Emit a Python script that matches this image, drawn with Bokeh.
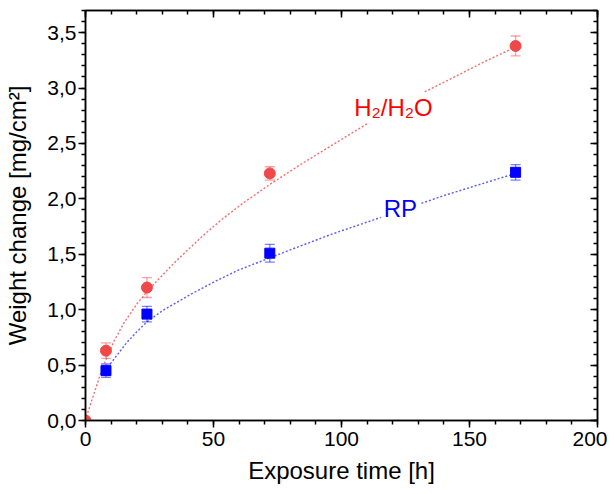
from bokeh.plotting import figure
from bokeh.models import (Range1d, FixedTicker, LinearAxis, Label, Whisker,
                          ColumnDataSource, TeeHead)
from bokeh.embed import file_html
from bokeh.resources import INLINE

# ---- data ----
h2_t = [0, 8, 24, 72, 168]
h2_w = [0.0, 0.63, 1.20, 2.23, 3.38]
h2_err = [0.0, 0.07, 0.09, 0.06, 0.09]

rp_t = [8, 24, 72, 168]
rp_w = [0.45, 0.96, 1.51, 2.24]
rp_err = [0.06, 0.07, 0.08, 0.07]

# fitted curves
h2_fit_t = [0, 1, 2, 4, 6, 8, 11, 15, 20, 25, 30, 35, 40, 46, 53, 62, 72, 84, 96, 108, 120, 132, 145, 156, 168]
h2_fit_w = [0.0, 0.08, 0.15, 0.29, 0.43, 0.55, 0.71, 0.88, 1.05, 1.19, 1.31,
            1.43, 1.54, 1.67, 1.81, 1.97, 2.13, 2.31, 2.48, 2.65, 2.81, 2.96,
            3.11, 3.24, 3.37]
rp_fit_t = [8, 10, 13, 16, 20, 24, 30, 36, 42, 51, 60, 70, 80, 96, 115, 140, 168]
rp_fit_w = [0.45, 0.52, 0.61, 0.70, 0.80, 0.89, 0.99, 1.07, 1.15, 1.26, 1.36,
            1.45, 1.54, 1.68, 1.83, 2.03, 2.23]

x_ticks = [0, 50, 100, 150, 200]
x_tick_labels = ["0", "50", "100", "150", "200"]
y_ticks = [0.0, 0.5, 1.0, 1.5, 2.0, 2.5, 3.0, 3.5]
y_tick_labels = ["0,0", "0,5", "1,0", "1,5", "2,0", "2,5", "3,0", "3,5"]
x_minor = list(range(0, 201, 10))
y_minor = [i / 10 for i in range(0, 38)]

RED = "#f04848"
BLUE = "#0000ff"
FONT = "Liberation Sans"

p = figure(width=607, height=486, output_backend="svg",
           toolbar_location=None,
           x_range=Range1d(0, 200), y_range=Range1d(0, 3.7),
           min_border_left=85, min_border_right=10, min_border_top=10,
           min_border_bottom=64, x_axis_location=None, y_axis_location=None)
p.grid.visible = False
p.outline_line_color = "black"
p.outline_line_width = 1.5
p.background_fill_color = "white"
p.border_fill_color = "white"


def style_axis(ax, ticks, labels, minor, show_labels, inward):
    ax.ticker = FixedTicker(ticks=ticks, minor_ticks=minor)
    ax.axis_line_width = 1.5
    ax.axis_line_color = "black"
    ax.major_tick_line_width = 1.5
    ax.minor_tick_line_width = 1.5
    if inward:
        ax.major_tick_in, ax.major_tick_out = 7, 0
        ax.minor_tick_in, ax.minor_tick_out = 4, 0
    else:
        ax.major_tick_in, ax.major_tick_out = 0, 7
        ax.minor_tick_in, ax.minor_tick_out = 0, 4
    ax.major_label_text_font = FONT
    ax.major_label_text_font_size = "21px"
    ax.major_label_text_color = "black"
    ax.major_label_standoff = 4
    if show_labels:
        ax.major_label_overrides = {t: l for t, l in zip(ticks, labels)}
    else:
        ax.major_label_overrides = {t: "" for t in ticks}
        ax.major_label_text_font_size = "0px"
        ax.major_label_standoff = 0


xb = LinearAxis(axis_label="Exposure time [h]")
style_axis(xb, x_ticks, x_tick_labels, x_minor, True, False)
xb.axis_label_text_font = FONT
xb.axis_label_text_font_size = "24px"
xb.axis_label_text_font_style = "normal"
xb.axis_label_text_color = "black"
xb.axis_label_standoff = 8
p.add_layout(xb, "below")

yl = LinearAxis(axis_label="Weight change [mg/cm²]")
style_axis(yl, y_ticks, y_tick_labels, y_minor, True, False)
yl.major_label_standoff = 2
yl.axis_label_text_font = FONT
yl.axis_label_text_font_size = "24px"
yl.axis_label_text_font_style = "normal"
yl.axis_label_text_color = "black"
yl.axis_label_standoff = 13
p.add_layout(yl, "left")

xt = LinearAxis()
style_axis(xt, x_ticks, x_tick_labels, x_minor, False, True)
p.add_layout(xt, "above")

yr = LinearAxis()
style_axis(yr, y_ticks, y_tick_labels, y_minor, False, True)
p.add_layout(yr, "right")

# fit curves
p.line(h2_fit_t, h2_fit_w, line_color=RED, line_width=1.4, line_dash="2 2",
       line_alpha=0.8)
p.line(rp_fit_t, rp_fit_w, line_color=BLUE, line_width=1.4, line_dash="2 2",
       line_alpha=0.65)

# error bars
src_h2 = ColumnDataSource(dict(t=h2_t, w=h2_w,
                               lo=[w - e for w, e in zip(h2_w, h2_err)],
                               hi=[w + e for w, e in zip(h2_w, h2_err)]))
src_rp = ColumnDataSource(dict(t=rp_t, w=rp_w,
                               lo=[w - e for w, e in zip(rp_w, rp_err)],
                               hi=[w + e for w, e in zip(rp_w, rp_err)]))
for src, col in ((src_h2, RED), (src_rp, BLUE)):
    wk = Whisker(source=src, base="t", lower="lo", upper="hi",
                 line_color=col, line_alpha=0.5, line_width=1.3,
                 upper_head=TeeHead(size=10, line_color=col, line_alpha=0.5, line_width=1.3),
                 lower_head=TeeHead(size=10, line_color=col, line_alpha=0.5, line_width=1.3))
    p.add_layout(wk)

p.scatter("t", "w", source=src_h2, marker="circle", size=11,
          fill_color=RED, line_color=RED)
p.scatter("t", "w", source=src_rp, marker="square", size=10,
          fill_color=BLUE, line_color=BLUE)

# series labels
p.add_layout(Label(x=120.3, y=2.825, text="H₂/H₂O", text_color="#ff0000",
                   text_font=FONT, text_font_size="24px", text_align="center",
                   text_baseline="middle", background_fill_color="white",
                   padding=2))
p.add_layout(Label(x=123, y=1.91, text="RP", text_color=BLUE,
                   text_font=FONT, text_font_size="24px", text_align="center",
                   text_baseline="middle", background_fill_color="white",
                   padding=3))

open("out.html", "w").write(file_html(p, INLINE))
